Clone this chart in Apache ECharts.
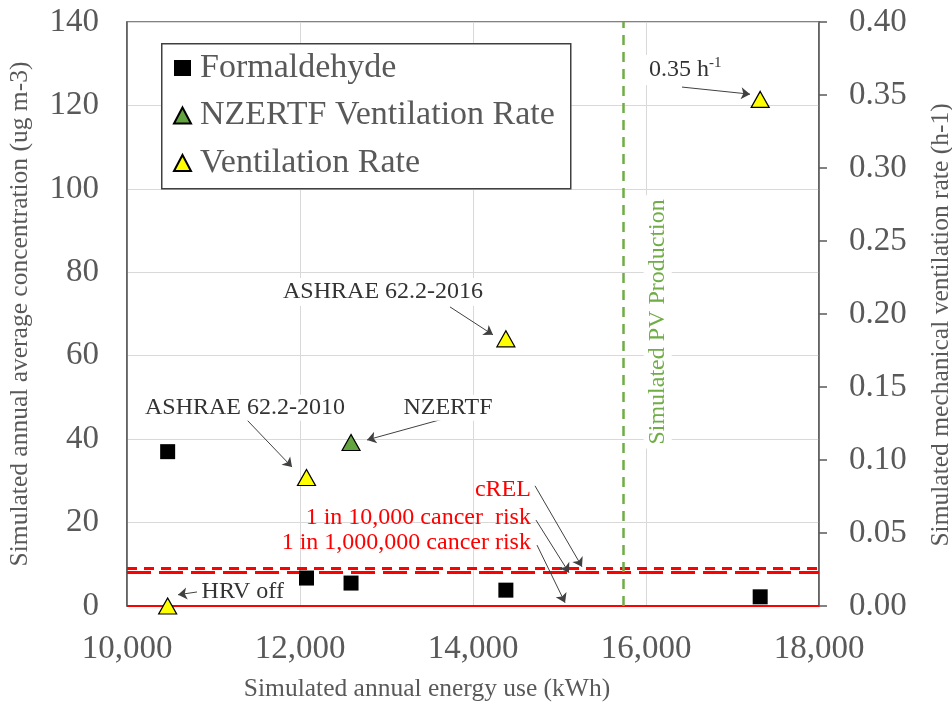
<!DOCTYPE html>
<html>
<head>
<meta charset="utf-8">
<script src="https://cdn.jsdelivr.net/npm/echarts@6/dist/echarts.min.js"></script>
<style>html,body{margin:0;padding:0;background:#fff}#c{width:952px;height:704px}</style>
</head>
<body>
<div id="c"></div>
<script>
// ---- data ----
const formEnergy = [10470, 12075, 12590, 14380, 17320];
const formaldehyde = [37, 6.7, 5.5, 3.8, 2.2];
const ventEnergy = [10470, 12075, 14380, 17320];
const ventRate = [0, 0.088, 0.183, 0.347];
const nzertfEnergy = [12590];
const nzertfRate = [0.112];
const cRELValue = 9;
const risk10k = 8;
const risk1M = 0.08;
const pvProduction = 15734;
const seriesNames = ['Formaldehyde', 'NZERTF Ventilation Rate', 'Ventilation Rate'];
const xTitle = 'Simulated annual energy use (kWh)';
const yTitle = 'Simulated annual average concentration (ug m-3)';
const y2Title = 'Simulated mechanical ventilation rate (h-1)';

const FONT = "'Liberation Serif', 'Times New Roman', serif";
const GRAY = '#595959';
const chart = echarts.init(document.getElementById('c'), null, {renderer: 'canvas'});

const zip = (a, b) => a.map((v, i) => [v, b[i]]);
const annText = (coord, text, pos, extra) => ({
  coord: coord, symbol: 'circle', symbolSize: 0.1, itemStyle: {color: 'rgba(0,0,0,0)'},
  label: Object.assign({show: true, position: pos, distance: 0, formatter: text,
    fontFamily: FONT, fontSize: 24, color: '#333333', backgroundColor: '#ffffff', padding: [1, 3]}, extra || {})
});
const arrow = (a, b) => [{coord: a}, {coord: b}];

const option = {
  animation: false,
  textStyle: {fontFamily: FONT},
  grid: {left: 127, right: 133, top: 22, bottom: 98, containLabel: false, outerBoundsMode: 'none',
    show: true, borderColor: GRAY, borderWidth: 1.5},
  graphic: [{
    type: 'rect', left: 161, top: 43, z: 20,
    shape: {width: 409, height: 145},
    style: {fill: '#ffffff', stroke: '#404040', lineWidth: 1.5}
  }],
  legend: {
    data: seriesNames, orient: 'vertical', left: 168, top: 46, z: 30,
    itemWidth: 17, itemHeight: 16, itemGap: 13.5,
    textStyle: {fontFamily: FONT, fontSize: 34, color: GRAY, lineHeight: 34, padding: [0, 0, 0, 4]}
  },
  xAxis: {
    type: 'value', min: 10000, max: 18000, interval: 2000,
    name: xTitle, nameLocation: 'middle', nameGap: 70,
    nameTextStyle: {fontFamily: FONT, fontSize: 25.5, color: GRAY, padding: [0, 92, 0, 0]},
    axisLine: {show: false}, axisTick: {show: false},
    axisLabel: {fontFamily: FONT, fontSize: 33, color: GRAY, margin: 27,
      formatter: v => v.toLocaleString('en-US')},
    splitLine: {show: true, lineStyle: {color: '#d9d9d9', width: 1}}
  },
  yAxis: [{
    type: 'value', min: 0, max: 140, interval: 20,
    name: yTitle, nameLocation: 'middle', nameGap: 94,
    nameTextStyle: {fontFamily: FONT, fontSize: 25.5, color: GRAY},
    axisLine: {show: true, lineStyle: {color: GRAY, width: 1.5}}, axisTick: {show: false},
    axisLabel: {fontFamily: FONT, fontSize: 33, color: GRAY, margin: 28},
    splitLine: {show: true, lineStyle: {color: '#d9d9d9', width: 1}}
  }, {
    type: 'value', min: 0, max: 0.4, interval: 0.05, position: 'right',
    name: y2Title, nameLocation: 'middle', nameGap: 109, nameRotate: 90,
    nameTextStyle: {fontFamily: FONT, fontSize: 25.5, color: GRAY, padding: [0, 22, 0, 0]},
    axisLine: {show: true, lineStyle: {color: GRAY, width: 1.5}},
    axisTick: {show: true, length: 8, lineStyle: {color: GRAY, width: 1.5}},
    axisLabel: {fontFamily: FONT, fontSize: 33, color: GRAY, margin: 30, formatter: v => v.toFixed(2)},
    splitLine: {show: false}
  }],
  series: [
    {
      name: 'annotations', type: 'scatter', data: [], yAxisIndex: 0, z: 1, silent: true,
      markLine: {
        silent: true, symbol: 'none', animation: false,
        label: {show: false},
        data: [
          {yAxis: risk1M, lineStyle: {color: '#ff0000', width: 2, type: 'solid'}},
          {yAxis: risk10k, lineStyle: {color: '#ff0000', width: 3, type: [24, 8]}},
          {yAxis: cRELValue, lineStyle: {color: '#ff0000', width: 3, type: [10, 7]}},
          {xAxis: pvProduction, lineStyle: {color: '#70ad47', width: 2.5, type: [10, 7]}}
        ]
      }
    },
    {
      name: 'arrows', type: 'scatter', data: [], yAxisIndex: 0, z: 4, silent: true,
      markLine: {
        silent: true, symbol: ['none', 'arrow'], symbolSize: 9, animation: false,
        label: {show: false},
        lineStyle: {color: '#404040', width: 1, type: 'solid'},
        data: [
          arrow([16416, 124.4], [17203, 122.7]),
          arrow([13734, 71.7], [14231, 65.0]),
          arrow([11387, 44.6], [11908, 33.3]),
          arrow([13700, 45.1], [12775, 39.8]),
          arrow([10809, 3.36], [10590, 2.7]),
          arrow([14717, 28.8], [15260, 9.4]),
          arrow([14728, 20.6], [15110, 8.0]),
          arrow([14740, 14.6], [15064, 0.8])
        ]
      },
      markPoint: {
        silent: true, animation: false,
        data: [
          annText([16000, 128.5], '{a|0.35 h}{s|-1}', 'right', {
            rich: {a: {fontFamily: FONT, fontSize: 24, color: '#333333', lineHeight: 28},
                   s: {fontFamily: FONT, fontSize: 15, color: '#333333', verticalAlign: 'top', lineHeight: 28, padding: [0, 0, 12, 0]}}
          }),
          annText([12960, 75.3], 'ASHRAE 62.2-2016', 'inside', {padding: [2, 19]}),
          annText([11364, 47.5], 'ASHRAE 62.2-2010', 'inside'),
          annText([13711, 47.5], 'NZERTF', 'inside'),
          annText([10827, 3.36], 'HRV off', 'right', {backgroundColor: 'rgba(0,0,0,0)'}),
          annText([14705, 27.8], 'cREL', 'left', {color: '#ff0000', backgroundColor: 'rgba(0,0,0,0)'}),
          annText([14705, 21.1], '1 in 10,000 cancer  risk', 'left', {color: '#ff0000', backgroundColor: 'rgba(0,0,0,0)'}),
          annText([14705, 15.1], '1 in 1,000,000 cancer risk', 'left', {color: '#ff0000', backgroundColor: 'rgba(0,0,0,0)'}),
          annText([16135, 68.1], 'Simulated PV Production', 'inside', {rotate: 90, color: '#70ad47', padding: [2, 4]})
        ]
      }
    },
    {
      name: seriesNames[0], type: 'scatter', yAxisIndex: 0, z: 5,
      symbol: 'rect', symbolSize: 15,
      itemStyle: {color: '#000000', opacity: 1},
      data: zip(formEnergy, formaldehyde)
    },
    {
      name: seriesNames[1], type: 'scatter', yAxisIndex: 1, z: 5,
      symbol: 'triangle', symbolSize: [18, 16],
      itemStyle: {color: '#63a340', borderColor: '#000000', borderWidth: 1.2, opacity: 1},
      data: zip(nzertfEnergy, nzertfRate)
    },
    {
      name: seriesNames[2], type: 'scatter', yAxisIndex: 1, z: 5,
      symbol: 'triangle', symbolSize: [18, 16],
      itemStyle: {color: '#ffff00', borderColor: '#000000', borderWidth: 1.2, opacity: 1},
      data: zip(ventEnergy, ventRate)
    }
  ]
};
chart.setOption(option);
</script>
</body>
</html>
